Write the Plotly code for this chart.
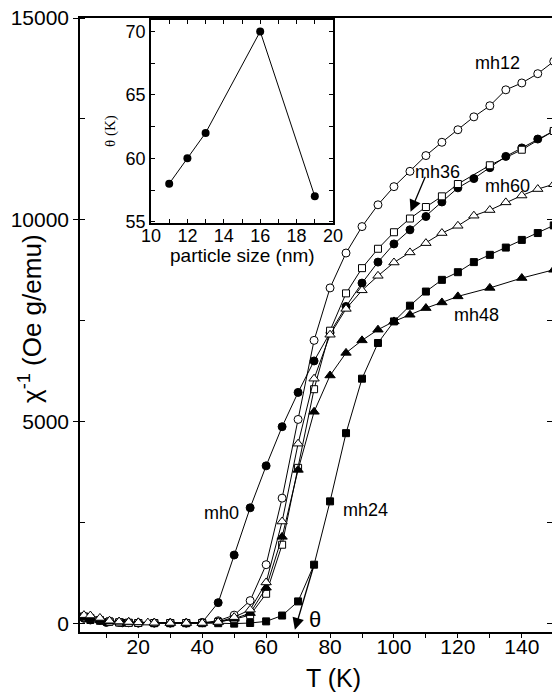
import plotly.graph_objects as go

# ---------------- data ----------------
T_mh0 = [3, 5, 10, 15, 20, 25, 30, 35, 40, 45, 50, 55, 60, 65, 70, 75, 80, 85, 90, 95, 100,
         105, 110, 115, 120, 125, 130, 135, 140, 145, 150]
chi_mh0 = [120, 80, 20, 10, 5, 5, 5, 5, 20, 510, 1690, 2860, 3900, 4870, 5720, 6500, 7200, 7850,
           8430, 8950, 9400, 9750, 10080, 10440, 10790, 11020, 11290, 11570, 11780, 12000, 12200]

T_mh12 = [3, 5, 8, 11, 14, 17, 20, 25, 30, 35, 40, 45, 50, 55, 60, 65, 70, 75, 80, 85, 90, 95,
          100, 105, 110, 115, 120, 125, 130, 135, 140, 145, 150]
chi_mh12 = [150, 110, 70, 40, 20, 10, 5, 5, 5, 5, 10, 60, 200, 560, 1450, 3100, 5050, 7010, 8310,
            9175, 9830, 10370, 10820, 11200, 11590, 11920, 12230, 12550, 12825, 13220, 13390,
            13620, 13925]

T_mh24 = [5, 8, 11, 14, 17, 20, 25, 30, 35, 40, 45, 50, 55, 60, 65, 70, 75, 80, 85, 90, 95, 100,
          105, 110, 115, 120, 125, 130, 135, 140, 145, 150]
chi_mh24 = [80, 60, 40, 20, 10, 5, 0, 0, 0, 0, 0, -10, 5, 45, 190, 540, 1450, 3020, 4710, 6060,
            6945, 7480, 7870, 8220, 8510, 8700, 8950, 9130, 9310, 9500, 9670, 9860]

T_mh36 = [3, 5, 8, 11, 14, 17, 20, 25, 30, 35, 40, 45, 50, 55, 60, 65, 70, 75, 80, 85, 90, 95,
          100, 105, 110, 115, 120, 130, 140, 150]
chi_mh36 = [170, 130, 80, 40, 20, 10, 5, 5, 5, 5, 5, 30, 100, 200, 730, 1945, 3850, 5800, 7250,
            8175, 8800, 9280, 9690, 10030, 10315, 10580, 10885, 11350, 11735, 12200]

T_mh48 = [3, 5, 8, 11, 14, 17, 20, 25, 30, 35, 40, 45, 50, 55, 60, 65, 70, 75, 80, 85, 90, 95,
          100, 105, 110, 115, 120, 130, 140, 150]
chi_mh48 = [140, 110, 70, 50, 35, 30, 20, 10, 5, 5, 5, 30, 110, 250, 880, 2140, 3800, 5240, 6140,
            6700, 7010, 7275, 7480, 7645, 7810, 7950, 8100, 8310, 8555, 8760]

T_mh60 = [3, 5, 8, 11, 14, 17, 20, 23, 25, 30, 35, 40, 45, 50, 55, 60, 65, 70, 75, 80, 85, 90,
          95, 100, 105, 110, 115, 120, 125, 130, 135, 140, 145, 150]
chi_mh60 = [200, 190, 130, 60, 40, 30, 20, 15, 10, 5, 5, 5, 30, 150, 335, 1010, 2520, 4450, 6060,
            7150, 7790, 8250, 8610, 8940, 9190, 9420, 9670, 9850, 10100, 10240, 10430, 10600,
            10760, 10880]

y_ticks = [0, 5000, 10000, 15000]
y_ticktext = ["0", "5000", "10000", "15000"]
x_ticks = [20, 40, 60, 80, 100, 120, 140]

size_nm = [11, 12, 13, 16, 19]
theta_K = [58, 60, 62, 70, 57]
inset_xticks = [10, 12, 14, 16, 18, 20]
inset_yticks = [55, 60, 65, 70]

# ---------------- figure ----------------
W, H = 552, 694
L, R, TOP, BOT = 80, 552, 18, 632
FONT = "Liberation Sans, Arial, Helvetica, sans-serif"


def px_x(p):
    return (p - L) / (R - L)


def px_y(p):
    return (BOT - p) / (BOT - TOP)


fig = go.Figure()

series = [
    ("mh0", T_mh0, chi_mh0, "circle", "black", 8),
    ("mh12", T_mh12, chi_mh12, "circle", "white", 8),
    ("mh24", T_mh24, chi_mh24, "square", "black", 7),
    ("mh36", T_mh36, chi_mh36, "square", "white", 7),
    ("mh48", T_mh48, chi_mh48, "triangle-up", "black", 9),
    ("mh60", T_mh60, chi_mh60, "triangle-up", "white", 9),
]
for name, t, c, sym, fill, sz in series:
    fig.add_trace(go.Scatter(
        x=t, y=c, name=name, mode="lines+markers",
        line=dict(color="black", width=1),
        marker=dict(symbol=sym, size=sz, color=fill, line=dict(color="black", width=1)),
        xaxis="x", yaxis="y", showlegend=False))

fig.add_trace(go.Scatter(
    x=size_nm, y=theta_K, mode="lines+markers",
    line=dict(color="black", width=1),
    marker=dict(symbol="circle", size=8, color="black"),
    xaxis="x2", yaxis="y2", showlegend=False))

axis_common = dict(showline=True, linecolor="black", linewidth=1.5, showgrid=False,
                   zeroline=False, tickcolor="black", tickwidth=1,
                   tickfont=dict(family=FONT, size=21, color="black"))

fig.update_layout(
    width=W, height=H,
    margin=dict(l=L, r=W - R, t=TOP, b=H - BOT, autoexpand=False),
    paper_bgcolor="white", plot_bgcolor="white",
    xaxis=dict(axis_common, domain=[0, 1], range=[1.76, 149.45], anchor="y",
               tickmode="array", tickvals=x_ticks,
               ticks="outside", ticklen=4, mirror=True, ticklabelstandoff=-9,
               minor=dict(dtick=10, tick0=0, ticks="outside", ticklen=4,
                          tickcolor="black", showgrid=False)),
    yaxis=dict(axis_common, domain=[0, 1], range=[-218, 15000], anchor="x",
               tickmode="array", tickvals=y_ticks, ticktext=y_ticktext,
               ticks="outside", ticklen=5, mirror=True,
               minor=dict(dtick=2500, tick0=0, ticks="inside", ticklen=5,
                          tickcolor="black", showgrid=False)),
    yaxis3=dict(overlaying="y", side="right", anchor="x", range=[-218, 15000],
                tick0=0, dtick=2500, ticks="inside", ticklen=5, tickcolor="black",
                showticklabels=False, showgrid=False, zeroline=False, showline=False),
    xaxis2=dict(axis_common, domain=[px_x(151), px_x(333)], range=[10, 20], anchor="y2",
                tickmode="array", tickvals=inset_xticks,
                ticks="inside", ticklen=4, mirror="allticks", ticklabelstandoff=-4,
                tickfont=dict(family=FONT, size=18, color="black"),
                minor=dict(dtick=1, tick0=0, ticks="inside", ticklen=4,
                           tickcolor="black", showgrid=False)),
    yaxis2=dict(axis_common, domain=[px_y(223), px_y(20)], range=[54.9, 70.9], anchor="x2",
                tickmode="array", tickvals=inset_yticks,
                ticks="inside", ticklen=4, mirror="allticks",
                tickfont=dict(family=FONT, size=18, color="black"),
                minor=dict(dtick=2.5, tick0=0, ticks="inside", ticklen=4,
                           tickcolor="black", showgrid=False)),
)

# dummy trace so yaxis3 is drawn
fig.add_trace(go.Scatter(x=[None], y=[None], xaxis="x", yaxis="y3", showlegend=False))

ann = []
# axis titles
ann.append(dict(text="T (K)", x=px_x(333), y=px_y(678), xref="paper", yref="paper",
                showarrow=False, font=dict(family=FONT, size=25, color="black"),
                xanchor="center", yanchor="middle"))
ann.append(dict(text="χ<sup>-1</sup> (Oe g/emu)", x=px_x(30), y=px_y(319),
                xref="paper", yref="paper", textangle=-90, showarrow=False,
                font=dict(family=FONT, size=26, color="black"),
                xanchor="center", yanchor="middle"))
ann.append(dict(text="particle size (nm)", x=px_x(242), y=px_y(256), xref="paper",
                yref="paper", showarrow=False,
                font=dict(family=FONT, size=19, color="black"),
                xanchor="center", yanchor="middle"))
ann.append(dict(text="θ (K)", x=px_x(110), y=px_y(131), xref="paper", yref="paper",
                textangle=-90, showarrow=False,
                font=dict(family="Liberation Serif, Times New Roman, serif", size=15,
                          color="black"),
                xanchor="center", yanchor="middle"))

# series labels
labels = [("mh12", 132.4, 13884), ("mh36", 113.5, 11172), ("mh60", 135.4, 10843),
          ("mh48", 125.8, 7646), ("mh0", 46.1, 2731), ("mh24", 91.1, 2813)]
for txt, lx, ly in labels:
    ann.append(dict(text=txt, x=lx, y=ly, xref="x", yref="y", showarrow=False,
                    font=dict(family=FONT, size=18, color="black"),
                    xanchor="center", yanchor="middle"))
ann.append(dict(text="θ", x=75.2, y=87, xref="x", yref="y", showarrow=False,
                font=dict(family=FONT, size=22, color="black"),
                xanchor="center", yanchor="middle"))

# arrows
ann.append(dict(x=105.2, y=10200, ax=110, ay=11100, xref="x", yref="y", axref="x",
                ayref="y", showarrow=True, arrowhead=2, arrowsize=1.8, arrowwidth=1.3,
                arrowcolor="black", text=""))
ann.append(dict(x=69.0, y=-160, ax=75, ay=1450, xref="x", yref="y", axref="x",
                ayref="y", showarrow=True, arrowhead=2, arrowsize=1.8, arrowwidth=1.3,
                arrowcolor="black", text=""))

fig.update_layout(annotations=ann)

fig.write_html("out.html")
